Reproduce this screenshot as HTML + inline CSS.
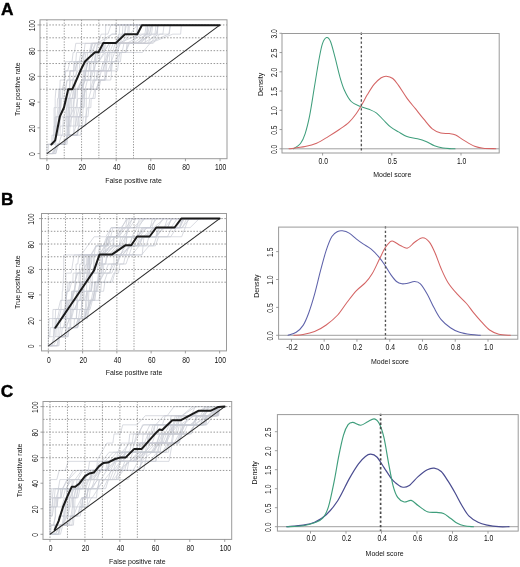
<!DOCTYPE html>
<html><head><meta charset="utf-8"><style>
html,body{margin:0;padding:0;background:#fff;width:520px;height:567px;overflow:hidden}
svg{display:block;filter:blur(0.35px)}
</style></head><body>
<svg width="520" height="567" viewBox="0 0 520 567" font-family='"Liberation Sans", sans-serif'>
<rect width="520" height="567" fill="#fff"/>
<text x="7.2" y="14.69" text-anchor="middle" font-size="17.3" fill="#000" font-weight="bold" stroke="#000" stroke-width="0.4">A</text>
<text x="7.2" y="205.19" text-anchor="middle" font-size="17.3" fill="#000" font-weight="bold" stroke="#000" stroke-width="0.4">B</text>
<text x="6.9" y="396.59" text-anchor="middle" font-size="17.3" fill="#000" font-weight="bold" stroke="#000" stroke-width="0.4">C</text>
<polyline points="64.67,135.18 68.39,135.18 69.21,116.81 69.21,107.62 69.21,89.25 72.09,89.25 73.75,70.88 73.83,61.69 83.33,61.69 84.22,52.5 92.59,52.5 95.75,43.32 114.54,43.32 122.88,34.13 124.53,34.13 126.39,24.94 178.87,24.94" fill="none" stroke="#c8ccd4" stroke-width="0.7" stroke-linejoin="round" stroke-linecap="round"/>
<polyline points="57.44,144.37 64.8,144.37 67.95,135.18 67.95,126 67.95,116.81 67.95,107.62 68.37,107.62 68.88,98.44 72.89,98.44 74.52,80.06 77.54,80.06 79.48,70.88 79.75,61.69 84.56,61.69 86.05,52.5 89.32,52.5 91.35,43.32 116.83,43.32 119.21,34.13 119.85,24.94 175.8,24.94" fill="none" stroke="#c8ccd4" stroke-width="0.7" stroke-linejoin="round" stroke-linecap="round"/>
<polyline points="53.99,144.37 55.11,144.37 55.33,126 59.54,126 60.17,116.81 60.17,98.44 60.17,89.25 69.27,89.25 70.29,70.88 75.44,70.88 76.55,61.69 79.1,61.69 80.98,52.5 83.94,52.5 85.13,43.32 97.47,43.32 111.72,34.13 115.83,34.13 116.45,24.94 164.64,24.94" fill="none" stroke="#c8ccd4" stroke-width="0.7" stroke-linejoin="round" stroke-linecap="round"/>
<polyline points="69.39,126 69.39,116.81 69.92,107.62 70.64,98.44 72.12,98.44 73.48,89.25 78.02,89.25 81.83,80.06 85.09,80.06 85.69,70.88 102.28,70.88 113.24,43.32 142.83,43.32 158.89,34.13 162.86,34.13 164.11,24.94 175.11,24.94" fill="none" stroke="#c8ccd4" stroke-width="0.7" stroke-linejoin="round" stroke-linecap="round"/>
<polyline points="46.93,153.56 47.87,153.56 48.72,144.37 51.8,144.37 51.97,135.18 53.77,135.18 54.08,126 54.79,126 55.04,116.81 58.92,116.81 63.13,107.62 63.8,107.62 64.22,98.44 67.1,98.44 69.05,89.25 75.02,89.25 76.25,80.06 76.25,70.88 76.94,70.88 77.51,61.69 98.39,61.69 109.15,43.32 137.57,43.32 145.79,34.13 147.41,34.13 147.69,24.94 206.93,24.94" fill="none" stroke="#c8ccd4" stroke-width="0.7" stroke-linejoin="round" stroke-linecap="round"/>
<polyline points="75.8,126 77.31,126 78.26,116.81 82.72,116.81 83.17,107.62 83.69,107.62 84.28,98.44 88.76,98.44 91.32,89.25 96.12,89.25 99.92,80.06 104.9,80.06 106.41,70.88 110.53,70.88 111.47,61.69 116.99,61.69 117.89,52.5 122.07,52.5 123.94,43.32 140.31,43.32 151.09,34.13 156.11,34.13 158.14,24.94 201.25,24.94" fill="none" stroke="#c8ccd4" stroke-width="0.7" stroke-linejoin="round" stroke-linecap="round"/>
<polyline points="46.93,144.37 53.72,144.37 55.51,135.18 60.04,135.18 60.4,126 63.68,126 66.09,116.81 70.16,116.81 73.82,107.62 76.05,107.62 77.87,98.44 82.55,98.44 85.82,89.25 93.31,89.25 93.96,80.06 96.18,80.06 97.29,70.88 100.83,70.88 103.29,61.69 114.46,61.69 120.68,52.5 125.48,52.5 129.49,43.32 149.7,43.32 172.75,34.13 180.63,34.13 181.34,24.94 220.07,24.94" fill="none" stroke="#c8ccd4" stroke-width="0.7" stroke-linejoin="round" stroke-linecap="round"/>
<polyline points="46.93,153.56 54.91,153.56 55.89,144.37 55.89,135.18 55.89,126 56.06,116.81 56.96,116.81 57.91,107.62 60.97,107.62 61.44,98.44 62.15,98.44 62.35,89.25 65.73,89.25 67.18,80.06 69.08,80.06 69.83,70.88 73.81,70.88 74.88,61.69 80.11,61.69 84.82,52.5 89.71,52.5 93.06,43.32 101.74,43.32 112.16,34.13 115.59,34.13 116.53,24.94 127.82,24.94" fill="none" stroke="#c8ccd4" stroke-width="0.7" stroke-linejoin="round" stroke-linecap="round"/>
<polyline points="67.95,135.18 69.39,135.18 69.97,126 75.04,126 79.08,107.62 80.78,107.62 81.45,89.25 81.63,80.06 84.11,80.06 85.19,70.88 89.04,70.88 89.59,61.69 99.08,61.69 100.09,52.5 102.19,52.5 103.84,43.32 120.5,43.32 122.32,34.13 127.66,34.13 128.23,24.94 187.02,24.94" fill="none" stroke="#c8ccd4" stroke-width="0.7" stroke-linejoin="round" stroke-linecap="round"/>
<polyline points="67.95,135.18 77.65,135.18 78.83,126 79.53,126 80.24,116.81 80.78,107.62 82.53,107.62 82.82,98.44 82.82,89.25 96.52,89.25 101.32,70.88 103.54,70.88 105.32,52.5 142.51,52.5 157.59,34.13 157.59,24.94 165.04,24.94" fill="none" stroke="#c8ccd4" stroke-width="0.7" stroke-linejoin="round" stroke-linecap="round"/>
<polyline points="57.71,126 59.52,126 59.83,116.81 59.83,107.62 59.83,98.44 59.83,89.25 60.1,80.06 64.38,80.06 64.61,70.88 65.38,61.69 72.02,61.69 73.13,52.5 74.4,52.5 75.79,43.32 97.75,43.32 101.23,34.13 107.87,34.13 110.98,24.94 134.58,24.94" fill="none" stroke="#c8ccd4" stroke-width="0.7" stroke-linejoin="round" stroke-linecap="round"/>
<polyline points="46.93,153.56 53.05,153.56 57.44,144.37 63.66,144.37 67.85,135.18 67.85,126 70.84,126 71.56,116.81 75.96,116.81 77.11,107.62 77.11,98.44 77.58,89.25 81.17,89.25 85.08,80.06 90.57,80.06 93.43,70.88 93.43,61.69 98.8,61.69 105.09,52.5 112.59,52.5 115.12,43.32 139.19,43.32 149.49,34.13 151.56,34.13 152.74,24.94 191.29,24.94" fill="none" stroke="#c8ccd4" stroke-width="0.7" stroke-linejoin="round" stroke-linecap="round"/>
<polyline points="55.85,135.18 57.69,135.18 59.88,126 59.88,116.81 59.88,107.62 59.88,98.44 63.63,98.44 67,80.06 72.81,80.06 77.9,70.88 85.61,70.88 87.98,61.69 91.21,61.69 94.29,52.5 99.75,52.5 104.14,43.32 122.7,43.32 137.3,24.94 171.72,24.94" fill="none" stroke="#c8ccd4" stroke-width="0.7" stroke-linejoin="round" stroke-linecap="round"/>
<polyline points="46.93,153.56 46.93,144.37 52.64,144.37 53.55,135.18 55.59,135.18 56.76,126 56.76,116.81 58.15,116.81 59.1,107.62 59.1,89.25 62.08,89.25 64.85,80.06 64.85,70.88 67.76,70.88 69.82,61.69 75.83,61.69 76.47,52.5 101.66,52.5 105.63,34.13 105.63,24.94 164.55,24.94" fill="none" stroke="#c8ccd4" stroke-width="0.7" stroke-linejoin="round" stroke-linecap="round"/>
<polyline points="57.44,144.37 63.48,144.37 67.95,135.18 77.27,135.18 78.63,126 78.63,116.81 79.84,116.81 80.87,107.62 81.36,107.62 81.81,98.44 81.81,89.25 85.16,89.25 87.45,80.06 90.19,80.06 90.88,70.88 93.55,70.88 96.34,61.69 104.83,61.69 110.44,43.32 133.51,43.32 137.24,34.13 137.24,24.94 138.93,24.94" fill="none" stroke="#c8ccd4" stroke-width="0.7" stroke-linejoin="round" stroke-linecap="round"/>
<polyline points="57.44,144.37 63.72,144.37 67.95,135.18 73.05,135.18 75.87,126 75.87,116.81 79.99,116.81 80.82,98.44 82.47,98.44 84.08,80.06 84.08,70.88 86.37,70.88 86.92,61.69 87.72,52.5 91.56,52.5 95.28,43.32 121.22,43.32 127.67,34.13 129.07,34.13 129.16,24.94 144.75,24.94" fill="none" stroke="#c8ccd4" stroke-width="0.7" stroke-linejoin="round" stroke-linecap="round"/>
<polyline points="58.06,135.18 58.37,116.81 64.43,116.81 66.7,107.62 66.7,98.44 69.58,98.44 72.08,89.25 76.9,89.25 81.74,80.06 82.71,80.06 83.34,70.88 86.01,70.88 88.12,61.69 96.53,61.69 98.07,52.5 104.24,52.5 105.57,43.32 126.94,43.32 142.92,34.13 144.92,34.13 146.25,24.94 172.51,24.94" fill="none" stroke="#c8ccd4" stroke-width="0.7" stroke-linejoin="round" stroke-linecap="round"/>
<polyline points="46.93,153.56 55.95,153.56 57.44,144.37 65.41,144.37 67.95,135.18 73.65,135.18 73.98,116.81 79.71,116.81 81.05,107.62 84.18,107.62 84.59,89.25 90.42,89.25 90.86,80.06 104.63,80.06 105.48,61.69 109.3,61.69 110.01,52.5 116.24,52.5 120.7,43.32 147.27,43.32 155.22,34.13 156.96,34.13 158.13,24.94 214.31,24.94" fill="none" stroke="#c8ccd4" stroke-width="0.7" stroke-linejoin="round" stroke-linecap="round"/>
<polyline points="67.95,135.18 68.43,126 68.43,116.81 70.69,116.81 71.7,107.62 71.7,98.44 74.55,98.44 74.92,89.25 80.29,89.25 84.86,80.06 85.03,70.88 90.67,70.88 91.15,61.69 94.98,61.69 95.57,52.5 96.85,52.5 97.28,43.32 114.6,43.32 121.99,34.13 124.54,34.13 125.38,24.94 174.45,24.94" fill="none" stroke="#c8ccd4" stroke-width="0.7" stroke-linejoin="round" stroke-linecap="round"/>
<polyline points="46.93,153.56 51.74,153.56 57.44,144.37 64.15,144.37 67.95,135.18 76.5,135.18 78.83,126 85.64,126 86.27,116.81 86.27,107.62 86.27,98.44 86.27,89.25 90.61,89.25 93.09,80.06 94.2,80.06 94.76,70.88 110.79,70.88 112.03,52.5 115.04,52.5 117.57,43.32 153.27,43.32 159.65,34.13 168.75,34.13 170.54,24.94 181.01,24.94" fill="none" stroke="#c8ccd4" stroke-width="0.7" stroke-linejoin="round" stroke-linecap="round"/>
<polyline points="46.93,153.56 53.67,153.56 57.44,144.37 65.56,144.37 67.95,126 67.95,116.81 68.49,107.62 73.11,107.62 73.93,98.44 74.78,98.44 75.24,89.25 78.96,89.25 81.59,80.06 90.49,80.06 91.39,70.88 106.22,70.88 107.74,52.5 113.8,52.5 119.32,43.32 135.9,43.32 152.87,34.13 154.99,34.13 156,24.94 180.96,24.94" fill="none" stroke="#c8ccd4" stroke-width="0.7" stroke-linejoin="round" stroke-linecap="round"/>
<polyline points="60.16,135.18 65.88,135.18 66.44,126 66.44,116.81 66.44,107.62 67.34,107.62 68.1,98.44 74.63,98.44 75.84,89.25 81.49,89.25 85.39,80.06 88.13,80.06 88.34,70.88 94.48,70.88 96.19,52.5 103.67,52.5 104.29,43.32 131.71,43.32 136.73,34.13 137.36,24.94 151.15,24.94" fill="none" stroke="#c8ccd4" stroke-width="0.7" stroke-linejoin="round" stroke-linecap="round"/>
<polyline points="57.44,144.37 67.1,144.37 67.95,135.18 77.18,135.18 78.83,126 84.91,126 85.91,116.81 88,116.81 89.7,98.44 92.91,98.44 94.65,89.25 97.53,89.25 99.89,80.06 110.79,80.06 112.42,61.69 120.51,61.69 121.33,52.5 126.02,52.5 126.97,43.32 145.01,43.32 147.58,24.94 203.2,24.94" fill="none" stroke="#c8ccd4" stroke-width="0.7" stroke-linejoin="round" stroke-linecap="round"/>
<polyline points="46.93,153.56 55.74,153.56 61.54,135.18 62.27,135.18 62.96,126 63.27,116.81 73.02,116.81 74.42,98.44 75.55,98.44 76.01,89.25 82.51,89.25 82.93,80.06 85.35,80.06 85.96,70.88 89.14,70.88 89.72,61.69 93.97,61.69 95.91,52.5 103.67,52.5 109.39,43.32 137.97,43.32 146.67,34.13 149.31,34.13 151.29,24.94 191.61,24.94" fill="none" stroke="#c8ccd4" stroke-width="0.7" stroke-linejoin="round" stroke-linecap="round"/>
<polyline points="55.13,126 55.18,116.81 55.18,107.62 55.18,98.44 55.95,89.25 63.51,89.25 65.72,70.88 74.8,70.88 77.28,61.69 81.29,61.69 83.65,52.5 90.92,52.5 91.87,43.32 115.58,43.32 118.61,34.13 122.43,34.13 122.92,24.94 124.91,24.94" fill="none" stroke="#c8ccd4" stroke-width="0.7" stroke-linejoin="round" stroke-linecap="round"/>
<polyline points="54.06,135.18 54.06,126 54.06,116.81 54.06,107.62 57.16,107.62 57.56,98.44 58.32,98.44 59.19,89.25 69.57,89.25 70.44,80.06 76.61,80.06 79.75,70.88 84.78,70.88 85.23,61.69 87.89,61.69 91.02,52.5 95.66,52.5 97.79,43.32 118.22,43.32 140.06,34.13 147.8,34.13 149.56,24.94 170.44,24.94" fill="none" stroke="#c8ccd4" stroke-width="0.7" stroke-linejoin="round" stroke-linecap="round"/>
<polyline points="65.15,126 69.38,126 71.44,116.81 73.76,116.81 75.33,107.62 81.07,107.62 81.82,98.44 83.85,98.44 85.15,89.25 91.37,89.25 95.42,80.06 97.14,80.06 98.49,70.88 108.13,70.88 114.57,52.5 117.58,52.5 119.5,43.32 133.63,43.32 145.82,34.13 149.76,34.13 151.93,24.94 179.01,24.94" fill="none" stroke="#c8ccd4" stroke-width="0.7" stroke-linejoin="round" stroke-linecap="round"/>
<polyline points="46.93,153.56 52.38,153.56 57.44,144.37 62.18,144.37 67.95,135.18 80.63,135.18 83.48,116.81 85.65,116.81 87.43,107.62 90.83,107.62 91.17,98.44 95.05,98.44 95.57,89.25 98.71,89.25 100.82,80.06 105.83,80.06 107,70.88 117.52,70.88 119.63,52.5 125.47,52.5 128.47,43.32 147.36,43.32 168.63,34.13 169.37,34.13 170.19,24.94 188.66,24.94" fill="none" stroke="#c8ccd4" stroke-width="0.7" stroke-linejoin="round" stroke-linecap="round"/>
<line x1="40" y1="89.25" x2="227" y2="89.25" stroke="#858585" stroke-width="0.85" stroke-dasharray="1.5 1.6"/>
<line x1="40" y1="76.39" x2="227" y2="76.39" stroke="#858585" stroke-width="0.85" stroke-dasharray="1.5 1.6"/>
<line x1="40" y1="63.53" x2="227" y2="63.53" stroke="#858585" stroke-width="0.85" stroke-dasharray="1.5 1.6"/>
<line x1="40" y1="50.67" x2="227" y2="50.67" stroke="#858585" stroke-width="0.85" stroke-dasharray="1.5 1.6"/>
<line x1="40" y1="37.81" x2="227" y2="37.81" stroke="#858585" stroke-width="0.85" stroke-dasharray="1.5 1.6"/>
<line x1="40" y1="24.94" x2="227" y2="24.94" stroke="#858585" stroke-width="0.85" stroke-dasharray="1.5 1.6"/>
<line x1="46.93" y1="19.8" x2="46.93" y2="158.7" stroke="#858585" stroke-width="0.85" stroke-dasharray="1.3 1.4"/>
<line x1="64.24" y1="19.8" x2="64.24" y2="158.7" stroke="#858585" stroke-width="0.85" stroke-dasharray="1.3 1.4"/>
<line x1="81.56" y1="19.8" x2="81.56" y2="158.7" stroke="#858585" stroke-width="0.85" stroke-dasharray="1.3 1.4"/>
<line x1="98.87" y1="19.8" x2="98.87" y2="158.7" stroke="#858585" stroke-width="0.85" stroke-dasharray="1.3 1.4"/>
<line x1="116.19" y1="19.8" x2="116.19" y2="158.7" stroke="#858585" stroke-width="0.85" stroke-dasharray="1.3 1.4"/>
<line x1="133.5" y1="19.8" x2="133.5" y2="158.7" stroke="#858585" stroke-width="0.85" stroke-dasharray="1.3 1.4"/>
<line x1="46.93" y1="153.56" x2="220.07" y2="24.94" stroke="#2a2a2a" stroke-width="1.05"/>
<polyline points="51.3,144.5 55.2,140.4 59.8,116.7 64,107.5 68.2,89.2 72.4,89.2 80.4,70.8 85,61.5 88.1,58.5 95,52.3 98.5,52.3 103.2,43.1 115.8,43.1 125,34.3 137.3,34.3 141.9,25.2 219.6,25.2" fill="none" stroke="#1a1a1a" stroke-width="2.0" stroke-linejoin="round" stroke-linecap="round"/>
<rect x="40" y="19.8" width="187" height="138.9" fill="none" stroke="#9a9a9a" stroke-width="1"/>
<line x1="46.93" y1="158.7" x2="46.93" y2="161.2" stroke="#888" stroke-width="0.8"/>
<text transform="translate(47.53 170.27) scale(0.82 1)" text-anchor="middle" font-size="8.3" fill="#111">0</text>
<line x1="40" y1="153.56" x2="37.5" y2="153.56" stroke="#888" stroke-width="0.8"/>
<text transform="translate(34.67 154.16) rotate(-90) scale(0.82 1)" text-anchor="middle" font-size="8.3" fill="#111">0</text>
<line x1="81.56" y1="158.7" x2="81.56" y2="161.2" stroke="#888" stroke-width="0.8"/>
<text transform="translate(82.16 170.27) scale(0.82 1)" text-anchor="middle" font-size="8.3" fill="#111">20</text>
<line x1="40" y1="127.83" x2="37.5" y2="127.83" stroke="#888" stroke-width="0.8"/>
<text transform="translate(34.67 128.43) rotate(-90) scale(0.82 1)" text-anchor="middle" font-size="8.3" fill="#111">20</text>
<line x1="116.19" y1="158.7" x2="116.19" y2="161.2" stroke="#888" stroke-width="0.8"/>
<text transform="translate(116.79 170.27) scale(0.82 1)" text-anchor="middle" font-size="8.3" fill="#111">40</text>
<line x1="40" y1="102.11" x2="37.5" y2="102.11" stroke="#888" stroke-width="0.8"/>
<text transform="translate(34.67 102.71) rotate(-90) scale(0.82 1)" text-anchor="middle" font-size="8.3" fill="#111">40</text>
<line x1="150.81" y1="158.7" x2="150.81" y2="161.2" stroke="#888" stroke-width="0.8"/>
<text transform="translate(151.41 170.27) scale(0.82 1)" text-anchor="middle" font-size="8.3" fill="#111">60</text>
<line x1="40" y1="76.39" x2="37.5" y2="76.39" stroke="#888" stroke-width="0.8"/>
<text transform="translate(34.67 76.99) rotate(-90) scale(0.82 1)" text-anchor="middle" font-size="8.3" fill="#111">60</text>
<line x1="185.44" y1="158.7" x2="185.44" y2="161.2" stroke="#888" stroke-width="0.8"/>
<text transform="translate(186.04 170.27) scale(0.82 1)" text-anchor="middle" font-size="8.3" fill="#111">80</text>
<line x1="40" y1="50.67" x2="37.5" y2="50.67" stroke="#888" stroke-width="0.8"/>
<text transform="translate(34.67 51.27) rotate(-90) scale(0.82 1)" text-anchor="middle" font-size="8.3" fill="#111">80</text>
<line x1="220.07" y1="158.7" x2="220.07" y2="161.2" stroke="#888" stroke-width="0.8"/>
<text transform="translate(220.67 170.27) scale(0.82 1)" text-anchor="middle" font-size="8.3" fill="#111">100</text>
<line x1="40" y1="24.94" x2="37.5" y2="24.94" stroke="#888" stroke-width="0.8"/>
<text transform="translate(34.67 25.54) rotate(-90) scale(0.82 1)" text-anchor="middle" font-size="8.3" fill="#111">100</text>
<text transform="translate(133.5 183.28) scale(0.97 1)" text-anchor="middle" font-size="7.2" fill="#111">False positive rate</text>
<text transform="translate(20.18 89.25) rotate(-90) scale(0.97 1)" text-anchor="middle" font-size="7.2" fill="#111">True positive rate</text>
<polyline points="48.35,345.81 48.62,327.64 49.15,318.55 57.54,318.55 59.45,309.46 61.02,309.46 61.15,300.37 70.71,300.37 76.63,282.2 86.19,282.2 91.41,273.11 97.3,273.11 98.07,264.03 101.57,264.03 103.02,254.94 119.49,254.94 131.16,245.85 138.76,245.85 142.57,236.76 155.95,236.76 157.43,227.68 173.21,227.68 184.83,218.59 206.75,218.59" fill="none" stroke="#c8ccd4" stroke-width="0.7" stroke-linejoin="round" stroke-linecap="round"/>
<polyline points="56.05,336.72 58.01,336.72 58.16,327.64 63.87,327.64 66.94,318.55 70.92,318.55 74.37,300.37 75.7,300.37 76.51,291.29 78.55,291.29 79.76,282.2 80.21,282.2 80.72,273.11 85.57,273.11 86.44,264.03 87.27,264.03 87.96,254.94 98.93,254.94 111,245.85 123.57,245.85 125.55,236.76 137.59,236.76 143.25,227.68 157.23,227.68 163.24,218.59 203.63,218.59" fill="none" stroke="#c8ccd4" stroke-width="0.7" stroke-linejoin="round" stroke-linecap="round"/>
<polyline points="79.92,318.55 85.52,318.55 87.4,309.46 90.08,309.46 92.38,300.37 94.66,300.37 95.27,282.2 99.6,282.2 101.31,273.11 104.73,273.11 108.37,264.03 126.02,264.03 132.21,245.85 139.25,245.85 143.02,236.76 170.77,236.76 181.97,218.59 195.88,218.59" fill="none" stroke="#c8ccd4" stroke-width="0.7" stroke-linejoin="round" stroke-linecap="round"/>
<polyline points="48.35,345.81 53.19,345.81 58.75,336.72 64.89,336.72 69.15,327.64 77.77,327.64 79.92,318.55 85.02,318.55 86.04,309.46 88.12,309.46 88.47,300.37 88.94,291.29 91.33,291.29 92.54,282.2 98.88,282.2 103.48,273.11 110.08,273.11 111.78,264.03 117.07,264.03 118.79,254.94 142.15,254.94 143.98,236.76 156.07,236.76 159.61,227.68 179.91,227.68 182.88,218.59 203.16,218.59" fill="none" stroke="#c8ccd4" stroke-width="0.7" stroke-linejoin="round" stroke-linecap="round"/>
<polyline points="65.9,327.64 66.26,318.55 67.91,318.55 68.03,309.46 68.03,300.37 70.95,300.37 71.93,291.29 74.83,291.29 75.41,282.2 78.88,282.2 79.79,264.03 81.74,264.03 82.05,254.94 102.37,254.94 110.98,227.68 125.66,227.68 127.21,218.59 158.97,218.59" fill="none" stroke="#c8ccd4" stroke-width="0.7" stroke-linejoin="round" stroke-linecap="round"/>
<polyline points="69.15,327.64 74,327.64 74.43,318.55 87.15,318.55 89.18,300.37 91.21,300.37 93.01,291.29 96.44,291.29 98.32,282.2 104.16,282.2 107.29,273.11 111.84,273.11 115.37,264.03 116.32,264.03 116.42,254.94 131.91,254.94 139.13,245.85 146.24,245.85 148.99,236.76 181.69,236.76 188.59,218.59 219.65,218.59" fill="none" stroke="#c8ccd4" stroke-width="0.7" stroke-linejoin="round" stroke-linecap="round"/>
<polyline points="55.19,336.72 55.99,336.72 56.21,327.64 56.21,318.55 63.54,318.55 67.05,291.29 68.5,291.29 69.64,282.2 75.17,282.2 76.84,273.11 79.92,273.11 83.54,264.03 83.54,254.94 91.12,254.94 96.85,245.85 106,245.85 106.84,236.76 118.98,236.76 125.54,227.68 136,227.68 145,218.59 176.28,218.59" fill="none" stroke="#c8ccd4" stroke-width="0.7" stroke-linejoin="round" stroke-linecap="round"/>
<polyline points="72.08,318.55 83.98,318.55 84.74,309.46 88.29,309.46 91.02,300.37 92.76,300.37 94.41,291.29 95.1,282.2 97.98,282.2 99.87,273.11 99.87,264.03 100.37,254.94 112.74,254.94 124.38,245.85 136.68,245.85 140.27,236.76 146.79,236.76 154.63,227.68 178.91,227.68 183.05,218.59 195.21,218.59" fill="none" stroke="#c8ccd4" stroke-width="0.7" stroke-linejoin="round" stroke-linecap="round"/>
<polyline points="58.75,336.72 61.42,336.72 62.28,327.64 65.63,327.64 69.64,318.55 76.44,318.55 76.93,309.46 81.28,309.46 81.62,300.37 82.32,291.29 86.59,291.29 86.88,273.11 87.68,264.03 89.05,264.03 90.02,254.94 105.16,254.94 114.67,245.85 119.03,245.85 123.41,236.76 143.24,236.76 164.18,218.59 198.35,218.59" fill="none" stroke="#c8ccd4" stroke-width="0.7" stroke-linejoin="round" stroke-linecap="round"/>
<polyline points="54.16,318.55 58.69,318.55 61.12,309.46 66.43,309.46 70.46,300.37 77.02,300.37 82.47,282.2 87.92,282.2 89.52,273.11 89.52,264.03 89.52,254.94 108.51,254.94 120.89,245.85 126.12,245.85 126.47,236.76 139.75,236.76 146.57,227.68 167.75,227.68 171.33,218.59 219.65,218.59" fill="none" stroke="#c8ccd4" stroke-width="0.7" stroke-linejoin="round" stroke-linecap="round"/>
<polyline points="48.35,345.81 51.44,345.81 53.68,336.72 53.68,327.64 57.63,327.64 58.65,318.55 62.92,318.55 66.88,300.37 72.43,300.37 73.51,291.29 83.23,291.29 84.23,282.2 88.01,282.2 90.29,273.11 93.03,273.11 93.91,264.03 93.91,254.94 105.38,254.94 114.33,245.85 120.24,245.85 125.76,236.76 136.81,236.76 147.16,227.68 170.87,227.68 177.29,218.59 219.65,218.59" fill="none" stroke="#c8ccd4" stroke-width="0.7" stroke-linejoin="round" stroke-linecap="round"/>
<polyline points="69.15,327.64 74.77,327.64 78.36,318.55 84.05,318.55 90.27,300.37 92.89,300.37 94.89,291.29 97.54,291.29 98.66,282.2 98.66,273.11 101.53,273.11 102.3,264.03 102.3,254.94 108.91,254.94 116.6,245.85 125.53,245.85 127.1,236.76 135.99,236.76 144.81,227.68 164.46,227.68 167.47,218.59 175.04,218.59" fill="none" stroke="#c8ccd4" stroke-width="0.7" stroke-linejoin="round" stroke-linecap="round"/>
<polyline points="60.49,327.64 63.45,327.64 65.54,318.55 70.64,318.55 71,300.37 72.38,300.37 73.1,291.29 79.62,291.29 80.95,282.2 86.08,282.2 88.31,273.11 88.31,264.03 88.31,254.94 104.83,254.94 107.54,236.76 116.07,236.76 119.52,227.68 125.96,227.68 132.57,218.59 159.83,218.59" fill="none" stroke="#c8ccd4" stroke-width="0.7" stroke-linejoin="round" stroke-linecap="round"/>
<polyline points="69.15,327.64 77.65,327.64 79.6,318.55 81.3,318.55 81.72,309.46 81.72,300.37 83.82,300.37 84.26,282.2 84.26,273.11 84.26,254.94 94.26,254.94 95.57,245.85 103.2,245.85 106.73,236.76 123.07,236.76 136.16,218.59 152.74,218.59" fill="none" stroke="#c8ccd4" stroke-width="0.7" stroke-linejoin="round" stroke-linecap="round"/>
<polyline points="48.35,345.81 58.97,345.81 60.95,318.55 63.33,318.55 65.38,309.46 65.38,300.37 65.85,282.2 65.91,273.11 71.15,273.11 74.09,254.94 90.77,254.94 95.97,245.85 103.18,245.85 108.51,236.76 115.75,236.76 123.77,227.68 133.24,227.68 143.15,218.59 155.09,218.59" fill="none" stroke="#c8ccd4" stroke-width="0.7" stroke-linejoin="round" stroke-linecap="round"/>
<polyline points="58.75,336.72 68.28,336.72 69.15,327.64 75.83,327.64 78.13,318.55 81.35,318.55 82.03,309.46 85.39,309.46 85.66,300.37 86.26,300.37 86.85,291.29 91.34,291.29 92.28,282.2 99.37,282.2 104.11,273.11 108.84,273.11 113.92,264.03 113.92,254.94 122.17,254.94 131.46,245.85 136.68,245.85 142.51,236.76 156.86,236.76 162.61,227.68 182.29,227.68 186.7,218.59 193.69,218.59" fill="none" stroke="#c8ccd4" stroke-width="0.7" stroke-linejoin="round" stroke-linecap="round"/>
<polyline points="69.15,327.64 77.29,327.64 79.88,309.46 81.42,309.46 82.76,300.37 83.46,300.37 84.01,291.29 89.1,291.29 90.31,282.2 90.48,273.11 98.7,273.11 101.96,264.03 101.96,254.94 113.31,254.94 123.28,245.85 130.76,245.85 137.97,236.76 155.26,236.76 164.66,227.68 181.99,227.68 189.72,218.59 219.65,218.59" fill="none" stroke="#c8ccd4" stroke-width="0.7" stroke-linejoin="round" stroke-linecap="round"/>
<polyline points="64.96,318.55 65.76,309.46 68.54,309.46 69.26,300.37 76.7,300.37 77.36,291.29 80.12,291.29 80.56,282.2 84.45,282.2 87.85,273.11 89.47,273.11 90.91,264.03 90.91,254.94 98.34,254.94 106.05,245.85 108.23,245.85 109.45,236.76 125.93,236.76 129.45,218.59 157.68,218.59" fill="none" stroke="#c8ccd4" stroke-width="0.7" stroke-linejoin="round" stroke-linecap="round"/>
<polyline points="49.69,336.72 50.35,327.64 52.71,327.64 52.98,309.46 58.28,309.46 60.57,300.37 62.1,300.37 62.25,291.29 62.72,291.29 63.14,282.2 63.72,273.11 63.72,264.03 63.72,254.94 81.13,254.94 94.14,236.76 105.84,236.76 111.24,227.68 128.61,227.68 132.34,218.59 198.5,218.59" fill="none" stroke="#c8ccd4" stroke-width="0.7" stroke-linejoin="round" stroke-linecap="round"/>
<polyline points="48.35,345.81 57.87,345.81 58.75,336.72 67.34,336.72 69.15,327.64 76.88,327.64 79.92,318.55 87.45,318.55 90.68,300.37 92.58,300.37 94.36,291.29 100.68,291.29 101.36,282.2 112.23,282.2 119.61,254.94 125.99,254.94 128.98,245.85 133.86,245.85 139.29,236.76 149.1,236.76 157.13,227.68 167.42,227.68 171.97,218.59 197.01,218.59" fill="none" stroke="#c8ccd4" stroke-width="0.7" stroke-linejoin="round" stroke-linecap="round"/>
<polyline points="48.35,345.81 52,345.81 54.9,336.72 54.9,327.64 55.65,309.46 65.1,309.46 68.18,282.2 74.76,282.2 77.68,273.11 82.1,273.11 86.32,264.03 86.32,254.94 99.42,254.94 100.71,245.85 108.46,245.85 112.92,227.68 121.15,227.68 127.7,218.59 135,218.59" fill="none" stroke="#c8ccd4" stroke-width="0.7" stroke-linejoin="round" stroke-linecap="round"/>
<polyline points="48.35,345.81 56.78,345.81 58.75,336.72 64.09,336.72 69.15,318.55 69.9,318.55 70.1,309.46 74.04,309.46 78.78,300.37 80.27,300.37 81.56,291.29 82.36,291.29 82.72,282.2 88,282.2 89.06,273.11 92.51,273.11 94.07,264.03 94.07,254.94 99.5,254.94 104.33,245.85 107.41,245.85 109.17,236.76 117.23,236.76 126.67,218.59 149.43,218.59" fill="none" stroke="#c8ccd4" stroke-width="0.7" stroke-linejoin="round" stroke-linecap="round"/>
<polyline points="48.35,336.72 53.41,336.72 56.74,318.55 62.1,318.55 66.34,309.46 66.34,300.37 66.54,291.29 69.17,291.29 71.55,282.2 72.86,282.2 73.12,273.11 87.33,273.11 89.07,254.94 104.44,254.94 109.63,245.85 113.67,245.85 114.05,236.76 126.07,236.76 128.99,227.68 138.42,227.68 143.9,218.59 214.11,218.59" fill="none" stroke="#c8ccd4" stroke-width="0.7" stroke-linejoin="round" stroke-linecap="round"/>
<polyline points="75.98,318.55 80.81,318.55 82.23,309.46 87.06,309.46 91.98,300.37 99.01,300.37 100.22,291.29 103.59,291.29 104.84,282.2 110.28,282.2 113.74,273.11 118.54,273.11 119.82,264.03 123.57,264.03 125.57,254.94 141.48,254.94 149.12,245.85 155.33,245.85 158.6,236.76 167.46,236.76 171.81,227.68 190.12,227.68 199.32,218.59 219.65,218.59" fill="none" stroke="#c8ccd4" stroke-width="0.7" stroke-linejoin="round" stroke-linecap="round"/>
<polyline points="62.45,318.55 66.24,318.55 67.13,309.46 70.76,309.46 71.52,300.37 71.52,291.29 74.47,291.29 75.27,282.2 76.06,273.11 76.06,264.03 77.77,264.03 78.77,254.94 97.63,254.94 99.83,245.85 106.84,245.85 115.33,236.76 131.67,236.76 137.43,227.68 151.9,227.68 155.14,218.59 219.65,218.59" fill="none" stroke="#c8ccd4" stroke-width="0.7" stroke-linejoin="round" stroke-linecap="round"/>
<polyline points="58.75,336.72 63.3,336.72 67.54,327.64 70.74,327.64 71.09,309.46 75.17,309.46 77.35,300.37 84.6,300.37 87.1,291.29 90.41,291.29 92.11,282.2 92.29,273.11 94.33,273.11 96.53,264.03 105.04,264.03 107.69,254.94 120.03,254.94 125.92,245.85 130.4,245.85 132.12,236.76 138.09,236.76 141.75,227.68 150.32,227.68 152.43,218.59 183.88,218.59" fill="none" stroke="#c8ccd4" stroke-width="0.7" stroke-linejoin="round" stroke-linecap="round"/>
<polyline points="72.71,318.55 76.14,318.55 76.98,309.46 77.83,300.37 79.34,300.37 81.13,291.29 81.13,282.2 82.85,282.2 83.09,273.11 89.12,273.11 90.57,264.03 91.4,264.03 92.19,254.94 101.72,254.94 110.87,245.85 112.63,245.85 113.91,236.76 118.61,236.76 123.23,227.68 136.32,227.68 139.7,218.59 162.49,218.59" fill="none" stroke="#c8ccd4" stroke-width="0.7" stroke-linejoin="round" stroke-linecap="round"/>
<polyline points="52.98,327.64 57.48,327.64 58.57,318.55 61.5,318.55 64.05,309.46 66.57,309.46 67.96,300.37 71.22,300.37 74.96,291.29 78.31,291.29 80.28,282.2 87.68,282.2 89.29,273.11 89.93,254.94 101.09,254.94 114.36,245.85 119.21,245.85 120.59,236.76 136.99,236.76 138.97,227.68 149.5,227.68 157.04,218.59 181.55,218.59" fill="none" stroke="#c8ccd4" stroke-width="0.7" stroke-linejoin="round" stroke-linecap="round"/>
<polyline points="64.85,318.55 71.61,318.55 73.78,309.46 76.86,309.46 77.35,300.37 94.8,300.37 98.43,273.11 101.74,273.11 102.33,264.03 117.39,264.03 124.27,245.85 128.85,245.85 132.37,236.76 145.62,236.76 153.19,227.68 164.06,227.68 172.7,218.59 219.65,218.59" fill="none" stroke="#c8ccd4" stroke-width="0.7" stroke-linejoin="round" stroke-linecap="round"/>
<polyline points="58.75,336.72 65.7,336.72 69.15,327.64 69.9,327.64 70.05,318.55 85.26,318.55 87.79,291.29 93.83,291.29 94.74,282.2 98.8,282.2 99.72,273.11 103.26,273.11 103.79,264.03 106.01,264.03 106.37,254.94 122.66,254.94 129.12,245.85 153.46,245.85 159.53,227.68 179.96,227.68 184.34,218.59 219.65,218.59" fill="none" stroke="#c8ccd4" stroke-width="0.7" stroke-linejoin="round" stroke-linecap="round"/>
<line x1="41.5" y1="282.2" x2="226.5" y2="282.2" stroke="#858585" stroke-width="0.85" stroke-dasharray="1.5 1.6"/>
<line x1="41.5" y1="269.48" x2="226.5" y2="269.48" stroke="#858585" stroke-width="0.85" stroke-dasharray="1.5 1.6"/>
<line x1="41.5" y1="256.76" x2="226.5" y2="256.76" stroke="#858585" stroke-width="0.85" stroke-dasharray="1.5 1.6"/>
<line x1="41.5" y1="244.03" x2="226.5" y2="244.03" stroke="#858585" stroke-width="0.85" stroke-dasharray="1.5 1.6"/>
<line x1="41.5" y1="231.31" x2="226.5" y2="231.31" stroke="#858585" stroke-width="0.85" stroke-dasharray="1.5 1.6"/>
<line x1="41.5" y1="218.59" x2="226.5" y2="218.59" stroke="#858585" stroke-width="0.85" stroke-dasharray="1.5 1.6"/>
<line x1="48.35" y1="213.5" x2="48.35" y2="350.9" stroke="#858585" stroke-width="0.85" stroke-dasharray="1.3 1.4"/>
<line x1="65.48" y1="213.5" x2="65.48" y2="350.9" stroke="#858585" stroke-width="0.85" stroke-dasharray="1.3 1.4"/>
<line x1="82.61" y1="213.5" x2="82.61" y2="350.9" stroke="#858585" stroke-width="0.85" stroke-dasharray="1.3 1.4"/>
<line x1="99.74" y1="213.5" x2="99.74" y2="350.9" stroke="#858585" stroke-width="0.85" stroke-dasharray="1.3 1.4"/>
<line x1="116.87" y1="213.5" x2="116.87" y2="350.9" stroke="#858585" stroke-width="0.85" stroke-dasharray="1.3 1.4"/>
<line x1="134" y1="213.5" x2="134" y2="350.9" stroke="#858585" stroke-width="0.85" stroke-dasharray="1.3 1.4"/>
<line x1="48.35" y1="345.81" x2="219.65" y2="218.59" stroke="#2a2a2a" stroke-width="1.05"/>
<polyline points="55.3,327.8 90,276.5 93.8,270.8 99.6,254.4 112.1,254.4 125.6,245.2 131.3,245.2 137.1,236.5 149.6,236.5 156.3,227.5 174.6,227.5 181.3,218.5 219.6,218.5" fill="none" stroke="#1a1a1a" stroke-width="2.0" stroke-linejoin="round" stroke-linecap="round"/>
<rect x="41.5" y="213.5" width="185" height="137.4" fill="none" stroke="#9a9a9a" stroke-width="1"/>
<line x1="48.35" y1="350.9" x2="48.35" y2="353.4" stroke="#888" stroke-width="0.8"/>
<text transform="translate(48.95 362.57) scale(0.82 1)" text-anchor="middle" font-size="8.3" fill="#111">0</text>
<line x1="41.5" y1="345.81" x2="39" y2="345.81" stroke="#888" stroke-width="0.8"/>
<text transform="translate(34.17 346.41) rotate(-90) scale(0.82 1)" text-anchor="middle" font-size="8.3" fill="#111">0</text>
<line x1="82.61" y1="350.9" x2="82.61" y2="353.4" stroke="#888" stroke-width="0.8"/>
<text transform="translate(83.21 362.57) scale(0.82 1)" text-anchor="middle" font-size="8.3" fill="#111">20</text>
<line x1="41.5" y1="320.37" x2="39" y2="320.37" stroke="#888" stroke-width="0.8"/>
<text transform="translate(34.17 320.97) rotate(-90) scale(0.82 1)" text-anchor="middle" font-size="8.3" fill="#111">20</text>
<line x1="116.87" y1="350.9" x2="116.87" y2="353.4" stroke="#888" stroke-width="0.8"/>
<text transform="translate(117.47 362.57) scale(0.82 1)" text-anchor="middle" font-size="8.3" fill="#111">40</text>
<line x1="41.5" y1="294.92" x2="39" y2="294.92" stroke="#888" stroke-width="0.8"/>
<text transform="translate(34.17 295.52) rotate(-90) scale(0.82 1)" text-anchor="middle" font-size="8.3" fill="#111">40</text>
<line x1="151.13" y1="350.9" x2="151.13" y2="353.4" stroke="#888" stroke-width="0.8"/>
<text transform="translate(151.73 362.57) scale(0.82 1)" text-anchor="middle" font-size="8.3" fill="#111">60</text>
<line x1="41.5" y1="269.48" x2="39" y2="269.48" stroke="#888" stroke-width="0.8"/>
<text transform="translate(34.17 270.08) rotate(-90) scale(0.82 1)" text-anchor="middle" font-size="8.3" fill="#111">60</text>
<line x1="185.39" y1="350.9" x2="185.39" y2="353.4" stroke="#888" stroke-width="0.8"/>
<text transform="translate(185.99 362.57) scale(0.82 1)" text-anchor="middle" font-size="8.3" fill="#111">80</text>
<line x1="41.5" y1="244.03" x2="39" y2="244.03" stroke="#888" stroke-width="0.8"/>
<text transform="translate(34.17 244.63) rotate(-90) scale(0.82 1)" text-anchor="middle" font-size="8.3" fill="#111">80</text>
<line x1="219.65" y1="350.9" x2="219.65" y2="353.4" stroke="#888" stroke-width="0.8"/>
<text transform="translate(220.25 362.57) scale(0.82 1)" text-anchor="middle" font-size="8.3" fill="#111">100</text>
<line x1="41.5" y1="218.59" x2="39" y2="218.59" stroke="#888" stroke-width="0.8"/>
<text transform="translate(34.17 219.19) rotate(-90) scale(0.82 1)" text-anchor="middle" font-size="8.3" fill="#111">100</text>
<text transform="translate(134 375.28) scale(0.97 1)" text-anchor="middle" font-size="7.2" fill="#111">False positive rate</text>
<text transform="translate(20.38 282.2) rotate(-90) scale(0.97 1)" text-anchor="middle" font-size="7.2" fill="#111">True positive rate</text>
<polyline points="49.99,534.29 54.95,534.29 60.6,525.17 66.28,525.17 71.21,516.05 80.18,516.05 82.19,506.93 87.05,506.93 87.71,497.81 89.25,497.81 90.32,488.69 103.13,488.69 107.71,479.57 116.2,479.57 123.48,470.45 139.13,470.45 141.99,461.33 150.01,461.33 157.07,452.21 166.01,452.21 169.55,443.09 178.41,443.09 182.03,433.97 188.16,433.97 194.51,424.85 203.67,424.85 206.99,415.73 214.36,415.73 219.47,406.61 224.71,406.61" fill="none" stroke="#c8ccd4" stroke-width="0.7" stroke-linejoin="round" stroke-linecap="round"/>
<polyline points="71.21,516.05 77.25,516.05 80.16,506.93 83.66,506.93 85.57,488.69 92.2,488.69 97.36,479.57 116.12,479.57 120.23,461.33 140.5,461.33 150.37,443.09 176.96,443.09 188.62,415.73 203,415.73 213.33,406.61 224.71,406.61" fill="none" stroke="#c8ccd4" stroke-width="0.7" stroke-linejoin="round" stroke-linecap="round"/>
<polyline points="61.13,516.05 64.05,516.05 65.58,506.93 67.78,506.93 68.13,497.81 70.54,497.81 72.37,488.69 77.54,488.69 80.27,479.57 89.93,479.57 93.53,470.45 107.76,470.45 110.02,461.33 138.36,461.33 156,443.09 162.3,443.09 163.26,433.97 173.22,433.97 174.02,424.85 206.78,424.85 219.47,406.61 224.71,406.61" fill="none" stroke="#c8ccd4" stroke-width="0.7" stroke-linejoin="round" stroke-linecap="round"/>
<polyline points="58.07,506.93 61.71,506.93 64.25,497.81 68.14,497.81 68.36,488.69 74.67,488.69 80.08,479.57 88.4,479.57 94.35,470.45 105.63,470.45 114.37,461.33 135.33,461.33 147.19,443.09 165.89,443.09 175.7,424.85 191.05,424.85 199.19,415.73 211.09,415.73 219.47,406.61 224.71,406.61" fill="none" stroke="#c8ccd4" stroke-width="0.7" stroke-linejoin="round" stroke-linecap="round"/>
<polyline points="49.99,506.93 49.99,497.81 49.99,479.57 56.77,479.57 59.25,470.45 65.16,470.45 68.3,461.33 96.52,461.33 106.82,443.09 112.89,443.09 114.04,433.97 120.18,433.97 122.75,424.85 136.94,424.85 145.25,415.73 167.19,415.73 174.02,406.61 198.36,406.61" fill="none" stroke="#c8ccd4" stroke-width="0.7" stroke-linejoin="round" stroke-linecap="round"/>
<polyline points="49.99,534.29 49.99,525.17 49.99,516.05 52.26,516.05 53.72,506.93 56.93,506.93 58.19,497.81 63.03,497.81 65.44,488.69 77.62,488.69 81.14,479.57 89.95,479.57 90.79,470.45 105.64,470.45 107.41,461.33 123.79,461.33 124.82,452.21 134.35,452.21 139.71,443.09 148.59,443.09 149.97,433.97 175.06,433.97 180.87,415.73 202.2,415.73 210.59,406.61 217.95,406.61" fill="none" stroke="#c8ccd4" stroke-width="0.7" stroke-linejoin="round" stroke-linecap="round"/>
<polyline points="49.99,516.05 49.99,506.93 51.96,506.93 52.93,497.81 60.89,497.81 62.45,488.69 67.04,488.69 69.22,479.57 89.56,479.57 104.46,461.33 118.23,461.33 125.31,452.21 140.97,452.21 142.31,443.09 147.46,443.09 147.78,433.97 156.1,433.97 158.05,424.85 180.65,424.85 182.04,415.73 211.99,415.73 217.03,406.61 224.71,406.61" fill="none" stroke="#c8ccd4" stroke-width="0.7" stroke-linejoin="round" stroke-linecap="round"/>
<polyline points="80.19,506.93 82.05,506.93 82.86,497.81 86.92,497.81 87.66,488.69 98.18,488.69 98.96,479.57 117.99,479.57 124.86,461.33 135.18,461.33 144.46,452.21 158.35,452.21 159.5,443.09 162.99,443.09 166.38,433.97 180.24,433.97 181.21,424.85 199.94,424.85 219.47,406.61 222.31,406.61" fill="none" stroke="#c8ccd4" stroke-width="0.7" stroke-linejoin="round" stroke-linecap="round"/>
<polyline points="49.99,534.29 55.52,534.29 60.6,525.17 63.46,525.17 66.97,516.05 66.97,506.93 66.97,497.81 66.97,488.69 71.54,488.69 72.36,479.57 84.45,479.57 88.66,470.45 107.67,470.45 109.73,461.33 129.89,461.33 132.73,452.21 153.78,452.21 159.54,433.97 170.46,433.97 172.15,424.85 193.21,424.85 196.86,415.73 208.65,415.73 219.47,406.61 224.36,406.61" fill="none" stroke="#c8ccd4" stroke-width="0.7" stroke-linejoin="round" stroke-linecap="round"/>
<polyline points="80.42,506.93 82.28,506.93 82.56,497.81 85.76,497.81 88.86,488.69 96.5,488.69 104.7,479.57 112.1,479.57 116.27,470.45 127.09,470.45 128.9,461.33 140.99,461.33 151.98,452.21 162.33,452.21 167.6,443.09 176.57,443.09 179.9,433.97 188.92,433.97 194.51,424.85 206.2,424.85 206.99,415.73 213.42,415.73 219.47,406.61 224.71,406.61" fill="none" stroke="#c8ccd4" stroke-width="0.7" stroke-linejoin="round" stroke-linecap="round"/>
<polyline points="49.99,534.29 49.99,525.17 58.06,525.17 58.74,516.05 65,516.05 66.2,497.81 70.29,497.81 74.33,488.69 78.79,488.69 79.66,479.57 91.38,479.57 92.24,470.45 101.71,470.45 104.59,461.33 114.48,461.33 123.55,452.21 131.47,452.21 134.62,443.09 142.48,443.09 143.11,433.97 152.04,433.97 154.85,424.85 169.85,424.85 171.11,415.73 190.98,415.73 195.34,406.61 216.32,406.61" fill="none" stroke="#c8ccd4" stroke-width="0.7" stroke-linejoin="round" stroke-linecap="round"/>
<polyline points="49.99,525.17 53.57,525.17 55.64,516.05 55.64,506.93 57.35,506.93 57.64,497.81 58.25,488.69 65.81,488.69 71.98,479.57 77.78,479.57 82.81,470.45 96.48,470.45 97.33,461.33 109.16,461.33 116.71,452.21 124.42,452.21 128.49,443.09 134.36,443.09 138.96,433.97 150.46,433.97 152.95,424.85 173.05,424.85 175.3,415.73 202.13,415.73 208.11,406.61 210.39,406.61" fill="none" stroke="#c8ccd4" stroke-width="0.7" stroke-linejoin="round" stroke-linecap="round"/>
<polyline points="52.5,506.93 54.81,506.93 55.58,497.81 60.37,497.81 60.65,488.69 76.76,488.69 90.97,470.45 96.49,470.45 102.73,461.33 115.76,461.33 122.83,452.21 131.91,452.21 140.54,443.09 160.59,443.09 164.38,424.85 176.32,424.85 178.6,415.73 192.74,415.73 205.78,406.61 224.71,406.61" fill="none" stroke="#c8ccd4" stroke-width="0.7" stroke-linejoin="round" stroke-linecap="round"/>
<polyline points="54.51,525.17 71.98,525.17 73.27,506.93 73.4,497.81 74.54,497.81 75.42,488.69 85.7,488.69 88.79,479.57 95.61,479.57 101.18,470.45 121.29,470.45 137.99,452.21 145.15,452.21 153.2,443.09 157.06,443.09 160.14,433.97 166.52,433.97 174.27,424.85 192.67,424.85 196.74,415.73 211.64,415.73 219.47,406.61 224.71,406.61" fill="none" stroke="#c8ccd4" stroke-width="0.7" stroke-linejoin="round" stroke-linecap="round"/>
<polyline points="49.99,534.29 59.01,534.29 60.6,525.17 66.26,525.17 68.38,516.05 73.6,516.05 76.93,506.93 81.14,506.93 83.05,497.81 86.84,497.81 88.2,488.69 97.07,488.69 99.96,479.57 113.24,479.57 121.52,470.45 136.97,470.45 143.27,461.33 155.86,461.33 157.07,452.21 168.5,452.21 169.55,443.09 177.44,443.09 182.03,433.97 189.43,433.97 194.51,424.85 205.28,424.85 206.99,415.73 216.75,415.73 219.47,406.61 224.71,406.61" fill="none" stroke="#c8ccd4" stroke-width="0.7" stroke-linejoin="round" stroke-linecap="round"/>
<polyline points="72.08,506.93 76.96,506.93 81.74,497.81 92.25,497.81 103.83,479.57 110.02,479.57 113.45,470.45 143.78,470.45 147.12,452.21 156.55,452.21 164.64,433.97 170.98,433.97 177.83,424.85 194.97,424.85 196.54,415.73 208.75,415.73 219.47,406.61 224.71,406.61" fill="none" stroke="#c8ccd4" stroke-width="0.7" stroke-linejoin="round" stroke-linecap="round"/>
<polyline points="60.6,525.17 69.46,525.17 72.42,506.93 72.42,497.81 72.42,488.69 82.06,488.69 84.01,479.57 91.24,479.57 98.47,470.45 113.42,470.45 116.11,461.33 133.17,461.33 141.99,452.21 154.35,452.21 162.26,433.97 169.34,433.97 174.08,424.85 189.87,424.85 202.94,415.73 215.92,415.73 219.47,406.61 224.71,406.61" fill="none" stroke="#c8ccd4" stroke-width="0.7" stroke-linejoin="round" stroke-linecap="round"/>
<polyline points="49.99,534.29 50.73,534.29 51.22,525.17 53.64,525.17 55.19,516.05 55.19,506.93 56.32,506.93 56.58,497.81 61.1,497.81 62.72,488.69 71.41,488.69 74.29,479.57 85.3,479.57 88.81,470.45 101.12,470.45 103.43,461.33 118.62,461.33 126.66,452.21 135.62,452.21 143.27,443.09 165.36,443.09 171.05,424.85 194.98,424.85 219.47,406.61 224.71,406.61" fill="none" stroke="#c8ccd4" stroke-width="0.7" stroke-linejoin="round" stroke-linecap="round"/>
<polyline points="49.99,506.93 52.36,506.93 52.55,497.81 55.99,497.81 59.22,488.69 66.4,488.69 70.18,479.57 84.78,479.57 86.24,470.45 95.14,470.45 99.82,461.33 116.42,461.33 117.63,452.21 129.51,452.21 131.57,443.09 134.21,443.09 136.54,433.97 145.58,433.97 149.87,424.85 180.14,424.85 207.61,406.61 224.71,406.61" fill="none" stroke="#c8ccd4" stroke-width="0.7" stroke-linejoin="round" stroke-linecap="round"/>
<polyline points="49.99,525.17 49.99,506.93 49.99,497.81 50.92,497.81 51.15,488.69 62.56,488.69 73.6,470.45 88.2,470.45 89.61,461.33 101.91,461.33 109.24,452.21 117.86,452.21 121.28,443.09 128.84,443.09 129.77,433.97 137.51,433.97 143.57,424.85 162.4,424.85 165.26,415.73 181.83,415.73 192.67,406.61 193,406.61" fill="none" stroke="#c8ccd4" stroke-width="0.7" stroke-linejoin="round" stroke-linecap="round"/>
<polyline points="60.6,525.17 65.65,525.17 71.21,516.05 77.85,516.05 81.6,497.81 84.08,497.81 86.1,488.69 91.74,488.69 94.47,479.57 104.61,479.57 111.94,470.45 124.66,470.45 127.23,461.33 169.02,461.33 173.81,433.97 180.85,433.97 184.94,424.85 202.35,424.85 206.99,415.73 217.86,415.73 219.47,406.61 220.83,406.61" fill="none" stroke="#c8ccd4" stroke-width="0.7" stroke-linejoin="round" stroke-linecap="round"/>
<polyline points="72.9,506.93 72.9,497.81 76.88,497.81 77.41,488.69 90.38,488.69 98.06,479.57 108.4,479.57 110.71,470.45 139.45,470.45 142.72,452.21 151.23,452.21 160.23,443.09 164.6,443.09 169.3,433.97 177.28,433.97 179.42,424.85 201.24,424.85 202.69,415.73 217.4,415.73 219.47,406.61 224.71,406.61" fill="none" stroke="#c8ccd4" stroke-width="0.7" stroke-linejoin="round" stroke-linecap="round"/>
<polyline points="49.99,534.29 54.14,534.29 54.69,525.17 62.33,525.17 66.35,516.05 68.01,516.05 69.79,506.93 70.59,506.93 71.44,497.81 76.07,497.81 78.4,488.69 88.13,488.69 90.94,479.57 100.68,479.57 106.78,470.45 116.13,470.45 121.04,461.33 132.45,461.33 145.85,452.21 160.07,452.21 161.4,443.09 174.17,443.09 183.96,424.85 194.16,424.85 205.7,415.73 216.89,415.73 219.47,406.61 224.71,406.61" fill="none" stroke="#c8ccd4" stroke-width="0.7" stroke-linejoin="round" stroke-linecap="round"/>
<polyline points="49.99,534.29 58.14,534.29 60.6,525.17 73.41,525.17 74.76,506.93 75.06,497.81 78.02,497.81 79.92,488.69 84.58,488.69 87.71,479.57 93.3,479.57 98.23,470.45 113.61,470.45 127,452.21 138.68,452.21 140.18,443.09 147.35,443.09 149.77,433.97 153.74,433.97 155.05,424.85 177.74,424.85 179.19,415.73 200.5,415.73 205.45,406.61 213.01,406.61" fill="none" stroke="#c8ccd4" stroke-width="0.7" stroke-linejoin="round" stroke-linecap="round"/>
<polyline points="60.6,525.17 67.79,525.17 71.21,516.05 76.22,516.05 82.19,506.93 87.03,506.93 91.36,497.81 96.54,497.81 97.28,488.69 105.58,488.69 108.53,479.57 128.25,479.57 138.06,461.33 155.82,461.33 157.07,452.21 163.08,452.21 169.55,443.09 179.23,443.09 182.03,433.97 191.29,433.97 194.51,424.85 203.53,424.85 206.99,415.73 218.29,415.73 219.47,406.61 224.71,406.61" fill="none" stroke="#c8ccd4" stroke-width="0.7" stroke-linejoin="round" stroke-linecap="round"/>
<polyline points="50.96,516.05 51.95,516.05 52.08,506.93 53.92,506.93 54.36,497.81 55.2,488.69 62.5,488.69 66.94,479.57 75.1,479.57 81.72,470.45 110.42,470.45 120.2,452.21 135.75,452.21 137.86,443.09 144.26,443.09 148.04,433.97 171.13,433.97 177.08,415.73 204.81,415.73 208.59,406.61 211.6,406.61" fill="none" stroke="#c8ccd4" stroke-width="0.7" stroke-linejoin="round" stroke-linecap="round"/>
<polyline points="49.99,516.05 49.99,506.93 50.83,497.81 52.4,497.81 53.33,488.69 58.32,488.69 59.91,479.57 68.58,479.57 76.99,470.45 96.34,470.45 113.31,452.21 121.91,452.21 129.53,443.09 132.26,443.09 133.51,433.97 139.01,433.97 142.54,424.85 155.75,424.85 163.89,415.73 182.05,415.73 195.74,406.61 204.19,406.61" fill="none" stroke="#c8ccd4" stroke-width="0.7" stroke-linejoin="round" stroke-linecap="round"/>
<polyline points="49.99,534.29 58.05,534.29 60.22,525.17 61.91,525.17 63.81,516.05 63.81,506.93 65.03,506.93 65.32,497.81 66.56,497.81 66.69,488.69 75.74,488.69 77.11,479.57 89.48,479.57 93.12,470.45 106.67,470.45 109.09,461.33 121.82,461.33 131.93,452.21 145.02,452.21 147.51,443.09 152.15,443.09 155.4,433.97 164.72,433.97 169.44,424.85 182.94,424.85 193.68,415.73 214.7,415.73 219.47,406.61 224.71,406.61" fill="none" stroke="#c8ccd4" stroke-width="0.7" stroke-linejoin="round" stroke-linecap="round"/>
<polyline points="66.84,506.93 68.71,506.93 69.7,497.81 73.4,497.81 76.2,488.69 82.9,488.69 85.99,479.57 93.17,479.57 100.36,470.45 118.54,470.45 140.15,452.21 152.58,452.21 158.31,443.09 171.12,443.09 172.87,433.97 183.4,433.97 187.42,424.85 198.78,424.85 206.99,415.73 218.79,415.73 219.47,406.61 224.71,406.61" fill="none" stroke="#c8ccd4" stroke-width="0.7" stroke-linejoin="round" stroke-linecap="round"/>
<polyline points="49.99,534.29 60.48,534.29 64.95,516.05 68.28,516.05 68.46,506.93 69.45,506.93 69.64,497.81 69.64,488.69 79.52,488.69 84.51,479.57 97.47,479.57 99.72,470.45 107.63,470.45 115.54,461.33 132.78,461.33 138.84,452.21 151.2,452.21 156.58,443.09 167.07,443.09 168.54,433.97 181.59,433.97 182.73,424.85 202.44,424.85 206.99,415.73 216.87,415.73 219.47,406.61 224.71,406.61" fill="none" stroke="#c8ccd4" stroke-width="0.7" stroke-linejoin="round" stroke-linecap="round"/>
<line x1="43" y1="470.45" x2="231.7" y2="470.45" stroke="#858585" stroke-width="0.85" stroke-dasharray="1.5 1.6"/>
<line x1="43" y1="457.68" x2="231.7" y2="457.68" stroke="#858585" stroke-width="0.85" stroke-dasharray="1.5 1.6"/>
<line x1="43" y1="444.91" x2="231.7" y2="444.91" stroke="#858585" stroke-width="0.85" stroke-dasharray="1.5 1.6"/>
<line x1="43" y1="432.14" x2="231.7" y2="432.14" stroke="#858585" stroke-width="0.85" stroke-dasharray="1.5 1.6"/>
<line x1="43" y1="419.38" x2="231.7" y2="419.38" stroke="#858585" stroke-width="0.85" stroke-dasharray="1.5 1.6"/>
<line x1="43" y1="406.61" x2="231.7" y2="406.61" stroke="#858585" stroke-width="0.85" stroke-dasharray="1.5 1.6"/>
<line x1="49.99" y1="401.5" x2="49.99" y2="539.4" stroke="#858585" stroke-width="0.85" stroke-dasharray="1.3 1.4"/>
<line x1="67.46" y1="401.5" x2="67.46" y2="539.4" stroke="#858585" stroke-width="0.85" stroke-dasharray="1.3 1.4"/>
<line x1="84.93" y1="401.5" x2="84.93" y2="539.4" stroke="#858585" stroke-width="0.85" stroke-dasharray="1.3 1.4"/>
<line x1="102.41" y1="401.5" x2="102.41" y2="539.4" stroke="#858585" stroke-width="0.85" stroke-dasharray="1.3 1.4"/>
<line x1="119.88" y1="401.5" x2="119.88" y2="539.4" stroke="#858585" stroke-width="0.85" stroke-dasharray="1.3 1.4"/>
<line x1="137.35" y1="401.5" x2="137.35" y2="539.4" stroke="#858585" stroke-width="0.85" stroke-dasharray="1.3 1.4"/>
<line x1="49.99" y1="534.29" x2="224.71" y2="406.61" stroke="#2a2a2a" stroke-width="1.05"/>
<polyline points="54.7,529.9 58.6,521.1 63,507 67.4,496.4 71.8,486.7 75.3,486.7 79.7,483.2 85,476.1 89.4,473.5 93.8,472.6 99.1,466.1 103.5,462.9 107.9,462.6 115,459 120.2,457.6 125.5,457.6 134,449.1 141.5,449.1 155,433.9 159.3,429.6 162.2,430 172.3,420.2 181,420.2 198.3,410.8 210.5,410.8 218.5,406.9 224.6,406.5" fill="none" stroke="#1a1a1a" stroke-width="2.0" stroke-linejoin="round" stroke-linecap="round"/>
<rect x="43" y="401.5" width="188.7" height="137.9" fill="none" stroke="#9a9a9a" stroke-width="1"/>
<line x1="49.99" y1="539.4" x2="49.99" y2="541.9" stroke="#888" stroke-width="0.8"/>
<text transform="translate(50.59 551.27) scale(0.82 1)" text-anchor="middle" font-size="8.3" fill="#111">0</text>
<line x1="43" y1="534.29" x2="40.5" y2="534.29" stroke="#888" stroke-width="0.8"/>
<text transform="translate(37.97 534.89) rotate(-90) scale(0.82 1)" text-anchor="middle" font-size="8.3" fill="#111">0</text>
<line x1="84.93" y1="539.4" x2="84.93" y2="541.9" stroke="#888" stroke-width="0.8"/>
<text transform="translate(85.53 551.27) scale(0.82 1)" text-anchor="middle" font-size="8.3" fill="#111">20</text>
<line x1="43" y1="508.76" x2="40.5" y2="508.76" stroke="#888" stroke-width="0.8"/>
<text transform="translate(37.97 509.36) rotate(-90) scale(0.82 1)" text-anchor="middle" font-size="8.3" fill="#111">20</text>
<line x1="119.88" y1="539.4" x2="119.88" y2="541.9" stroke="#888" stroke-width="0.8"/>
<text transform="translate(120.48 551.27) scale(0.82 1)" text-anchor="middle" font-size="8.3" fill="#111">40</text>
<line x1="43" y1="483.22" x2="40.5" y2="483.22" stroke="#888" stroke-width="0.8"/>
<text transform="translate(37.97 483.82) rotate(-90) scale(0.82 1)" text-anchor="middle" font-size="8.3" fill="#111">40</text>
<line x1="154.82" y1="539.4" x2="154.82" y2="541.9" stroke="#888" stroke-width="0.8"/>
<text transform="translate(155.42 551.27) scale(0.82 1)" text-anchor="middle" font-size="8.3" fill="#111">60</text>
<line x1="43" y1="457.68" x2="40.5" y2="457.68" stroke="#888" stroke-width="0.8"/>
<text transform="translate(37.97 458.28) rotate(-90) scale(0.82 1)" text-anchor="middle" font-size="8.3" fill="#111">60</text>
<line x1="189.77" y1="539.4" x2="189.77" y2="541.9" stroke="#888" stroke-width="0.8"/>
<text transform="translate(190.37 551.27) scale(0.82 1)" text-anchor="middle" font-size="8.3" fill="#111">80</text>
<line x1="43" y1="432.14" x2="40.5" y2="432.14" stroke="#888" stroke-width="0.8"/>
<text transform="translate(37.97 432.74) rotate(-90) scale(0.82 1)" text-anchor="middle" font-size="8.3" fill="#111">80</text>
<line x1="224.71" y1="539.4" x2="224.71" y2="541.9" stroke="#888" stroke-width="0.8"/>
<text transform="translate(225.31 551.27) scale(0.82 1)" text-anchor="middle" font-size="8.3" fill="#111">100</text>
<line x1="43" y1="406.61" x2="40.5" y2="406.61" stroke="#888" stroke-width="0.8"/>
<text transform="translate(37.97 407.21) rotate(-90) scale(0.82 1)" text-anchor="middle" font-size="8.3" fill="#111">100</text>
<text transform="translate(137.35 563.78) scale(0.97 1)" text-anchor="middle" font-size="7.2" fill="#111">False positive rate</text>
<text transform="translate(21.88 470.45) rotate(-90) scale(0.97 1)" text-anchor="middle" font-size="7.2" fill="#111">True positive rate</text>
<line x1="282" y1="148.8" x2="499.2" y2="148.8" stroke="#a0a0a0" stroke-width="1"/>
<path d="M293.5,148.8 C294.67,147.92 298.57,146 300.5,143.5 C302.43,141 303.57,138.48 305.1,133.8 C306.63,129.12 308.17,123.08 309.7,115.4 C311.23,107.72 312.77,96.93 314.3,87.7 C315.83,78.47 317.55,67.32 318.9,60 C320.25,52.68 321.12,47.55 322.4,43.8 C323.68,40.05 325.25,37.88 326.6,37.5 C327.95,37.12 329.08,38.13 330.5,41.5 C331.92,44.87 333.57,51.92 335.1,57.7 C336.63,63.48 338.17,70.82 339.7,76.2 C341.23,81.58 342.38,85.78 344.3,90 C346.22,94.22 348.5,98.73 351.2,101.5 C353.9,104.27 357.42,105.25 360.5,106.6 C363.58,107.95 367.02,108.52 369.7,109.6 C372.38,110.68 374.3,111.37 376.6,113.1 C378.9,114.83 381.18,117.7 383.5,120 C385.82,122.3 388,124.92 390.5,126.9 C393,128.88 395.77,130.28 398.5,131.9 C401.23,133.52 403.73,135.47 406.9,136.6 C410.07,137.73 414.32,137.9 417.5,138.7 C420.68,139.5 423.18,140.23 426,141.4 C428.82,142.57 431.58,144.6 434.4,145.7 C437.22,146.8 440.08,147.5 442.9,148 C445.72,148.5 449.28,148.57 451.3,148.7 C453.32,148.83 454.38,148.78 455,148.8" fill="none" stroke="#3f9e7c" stroke-width="1.05" stroke-linejoin="round" stroke-linecap="round"/>
<path d="M289,148.8 C291.68,148.42 300.5,147.43 305.1,146.5 C309.7,145.57 312.75,144.85 316.6,143.2 C320.45,141.55 324.35,138.93 328.2,136.6 C332.05,134.27 336.25,131.58 339.7,129.2 C343.15,126.82 346.22,124.8 348.9,122.3 C351.58,119.8 353.68,117.08 355.8,114.2 C357.92,111.32 359.67,108.27 361.6,105 C363.53,101.73 365.28,98.07 367.4,94.6 C369.52,91.13 372,87 374.3,84.2 C376.6,81.4 379.2,79.13 381.2,77.8 C383.2,76.47 384.37,76.08 386.3,76.2 C388.23,76.32 390.77,76.97 392.8,78.5 C394.83,80.03 396.15,82.13 398.5,85.4 C400.85,88.67 404.08,94.22 406.9,98.1 C409.72,101.98 412.58,105.18 415.4,108.7 C418.22,112.22 420.98,115.85 423.8,119.2 C426.62,122.55 429.47,126.5 432.3,128.8 C435.13,131.1 437.98,132.2 440.8,133 C443.62,133.8 446.73,133.25 449.2,133.6 C451.67,133.95 453.13,133.97 455.6,135.1 C458.07,136.23 460.83,138.53 464,140.4 C467.17,142.27 471.42,145 474.6,146.3 C477.78,147.6 479.57,147.8 483.1,148.2 C486.63,148.6 493.68,148.62 495.8,148.7" fill="none" stroke="#d46464" stroke-width="1.05" stroke-linejoin="round" stroke-linecap="round"/>
<line x1="361.35" y1="32.6" x2="361.35" y2="153" stroke="#555" stroke-width="1.35" stroke-dasharray="2.3 2.15"/>
<rect x="282" y="33.5" width="217.2" height="119.5" fill="none" stroke="#9a9a9a" stroke-width="1"/>
<line x1="322.6" y1="153" x2="322.6" y2="155.5" stroke="#888" stroke-width="0.8"/>
<text transform="translate(323.2 164.17) scale(0.82 1)" text-anchor="middle" font-size="8.3" fill="#111">0.0</text>
<line x1="391.8" y1="153" x2="391.8" y2="155.5" stroke="#888" stroke-width="0.8"/>
<text transform="translate(392.4 164.17) scale(0.82 1)" text-anchor="middle" font-size="8.3" fill="#111">0.5</text>
<line x1="461" y1="153" x2="461" y2="155.5" stroke="#888" stroke-width="0.8"/>
<text transform="translate(461.6 164.17) scale(0.82 1)" text-anchor="middle" font-size="8.3" fill="#111">1.0</text>
<line x1="282" y1="148.8" x2="279.5" y2="148.8" stroke="#888" stroke-width="0.8"/>
<text transform="translate(277.37 149.4) rotate(-90) scale(0.82 1)" text-anchor="middle" font-size="8.3" fill="#111">0.0</text>
<line x1="282" y1="129.55" x2="279.5" y2="129.55" stroke="#888" stroke-width="0.8"/>
<text transform="translate(277.37 130.15) rotate(-90) scale(0.82 1)" text-anchor="middle" font-size="8.3" fill="#111">0.5</text>
<line x1="282" y1="110.3" x2="279.5" y2="110.3" stroke="#888" stroke-width="0.8"/>
<text transform="translate(277.37 110.9) rotate(-90) scale(0.82 1)" text-anchor="middle" font-size="8.3" fill="#111">1.0</text>
<line x1="282" y1="91.05" x2="279.5" y2="91.05" stroke="#888" stroke-width="0.8"/>
<text transform="translate(277.37 91.65) rotate(-90) scale(0.82 1)" text-anchor="middle" font-size="8.3" fill="#111">1.5</text>
<line x1="282" y1="71.8" x2="279.5" y2="71.8" stroke="#888" stroke-width="0.8"/>
<text transform="translate(277.37 72.4) rotate(-90) scale(0.82 1)" text-anchor="middle" font-size="8.3" fill="#111">2.0</text>
<line x1="282" y1="52.55" x2="279.5" y2="52.55" stroke="#888" stroke-width="0.8"/>
<text transform="translate(277.37 53.15) rotate(-90) scale(0.82 1)" text-anchor="middle" font-size="8.3" fill="#111">2.5</text>
<line x1="282" y1="33.3" x2="279.5" y2="33.3" stroke="#888" stroke-width="0.8"/>
<text transform="translate(277.37 33.9) rotate(-90) scale(0.82 1)" text-anchor="middle" font-size="8.3" fill="#111">3.0</text>
<text transform="translate(392.3 176.68) scale(0.97 1)" text-anchor="middle" font-size="7.2" fill="#111">Model score</text>
<text transform="translate(263.38 84.4) rotate(-90) scale(0.97 1)" text-anchor="middle" font-size="7.2" fill="#111">Density</text>
<line x1="278.6" y1="335.3" x2="517.8" y2="335.3" stroke="#a0a0a0" stroke-width="1"/>
<path d="M288.1,335.3 C289.45,334.8 293.7,333.95 296.2,332.3 C298.7,330.65 301,328.67 303.1,325.4 C305.2,322.13 306.88,317.9 308.8,312.7 C310.72,307.5 312.67,301.12 314.6,294.2 C316.53,287.28 318.47,278.5 320.4,271.2 C322.33,263.9 324.28,256.18 326.2,250.4 C328.12,244.62 329.98,239.65 331.9,236.5 C333.82,233.35 335.97,232.45 337.7,231.5 C339.43,230.55 340.38,230.53 342.3,230.8 C344.22,231.07 346.88,231.77 349.2,233.1 C351.52,234.43 353.88,237 356.2,238.8 C358.52,240.6 360.6,242.17 363.1,243.9 C365.6,245.63 368.52,246.97 371.2,249.2 C373.88,251.43 376.9,254.6 379.2,257.3 C381.5,260 383.07,262.52 385,265.4 C386.93,268.28 388.88,271.92 390.8,274.6 C392.72,277.28 394.65,279.97 396.5,281.5 C398.35,283.03 400.03,283.52 401.9,283.8 C403.77,284.08 405.58,283.58 407.7,283.2 C409.82,282.82 412.48,281.4 414.6,281.5 C416.72,281.6 418.28,281.68 420.4,283.8 C422.52,285.92 425,290.15 427.3,294.2 C429.6,298.25 431.88,303.87 434.2,308.1 C436.52,312.33 438.5,316.33 441.2,319.6 C443.9,322.87 447.33,325.58 450.4,327.7 C453.47,329.82 456.13,331.15 459.6,332.3 C463.07,333.45 467.73,334.1 471.2,334.6 C474.67,335.1 478.87,335.18 480.4,335.3" fill="none" stroke="#5e62aa" stroke-width="1.05" stroke-linejoin="round" stroke-linecap="round"/>
<path d="M293.8,335.3 C295.35,335.18 299.63,335.22 303.1,334.6 C306.57,333.98 310.75,333.2 314.6,331.6 C318.45,330 322.35,327.77 326.2,325 C330.05,322.23 334.25,318.75 337.7,315 C341.15,311.25 343.82,306.53 346.9,302.5 C349.98,298.47 353.12,294.1 356.2,290.8 C359.28,287.5 362.72,285.58 365.4,282.7 C368.08,279.82 370,277.35 372.3,273.5 C374.6,269.65 377.08,263.83 379.2,259.6 C381.32,255.37 383.27,250.98 385,248.1 C386.73,245.22 388.25,243.45 389.6,242.3 C390.95,241.15 391.23,240.62 393.1,241.2 C394.97,241.78 398.37,244.65 400.8,245.8 C403.23,246.95 405.4,248.68 407.7,248.1 C410,247.52 412.1,244.03 414.6,242.3 C417.1,240.57 420.2,237.7 422.7,237.7 C425.2,237.7 427.48,239.62 429.6,242.3 C431.72,244.98 433.47,249.38 435.4,253.8 C437.33,258.22 439.08,263.98 441.2,268.8 C443.32,273.62 445.42,278.47 448.1,282.7 C450.78,286.93 454.23,290.73 457.3,294.2 C460.37,297.67 463.8,300.42 466.5,303.5 C469.2,306.58 471,309.63 473.5,312.7 C476,315.77 478.82,319.02 481.5,321.9 C484.18,324.78 486.72,327.95 489.6,330 C492.48,332.05 495.33,333.32 498.8,334.2 C502.27,335.08 508.47,335.12 510.4,335.3" fill="none" stroke="#d46464" stroke-width="1.05" stroke-linejoin="round" stroke-linecap="round"/>
<line x1="385.46" y1="226.2" x2="385.46" y2="339.2" stroke="#555" stroke-width="1.35" stroke-dasharray="2.3 2.15"/>
<rect x="278.6" y="227.1" width="239.2" height="112.1" fill="none" stroke="#9a9a9a" stroke-width="1"/>
<line x1="291.44" y1="339.2" x2="291.44" y2="341.7" stroke="#888" stroke-width="0.8"/>
<text transform="translate(292.04 349.87) scale(0.82 1)" text-anchor="middle" font-size="8.3" fill="#111">-0.2</text>
<line x1="324.2" y1="339.2" x2="324.2" y2="341.7" stroke="#888" stroke-width="0.8"/>
<text transform="translate(324.8 349.87) scale(0.82 1)" text-anchor="middle" font-size="8.3" fill="#111">0.0</text>
<line x1="356.96" y1="339.2" x2="356.96" y2="341.7" stroke="#888" stroke-width="0.8"/>
<text transform="translate(357.56 349.87) scale(0.82 1)" text-anchor="middle" font-size="8.3" fill="#111">0.2</text>
<line x1="389.72" y1="339.2" x2="389.72" y2="341.7" stroke="#888" stroke-width="0.8"/>
<text transform="translate(390.32 349.87) scale(0.82 1)" text-anchor="middle" font-size="8.3" fill="#111">0.4</text>
<line x1="422.48" y1="339.2" x2="422.48" y2="341.7" stroke="#888" stroke-width="0.8"/>
<text transform="translate(423.08 349.87) scale(0.82 1)" text-anchor="middle" font-size="8.3" fill="#111">0.6</text>
<line x1="455.24" y1="339.2" x2="455.24" y2="341.7" stroke="#888" stroke-width="0.8"/>
<text transform="translate(455.84 349.87) scale(0.82 1)" text-anchor="middle" font-size="8.3" fill="#111">0.8</text>
<line x1="488" y1="339.2" x2="488" y2="341.7" stroke="#888" stroke-width="0.8"/>
<text transform="translate(488.6 349.87) scale(0.82 1)" text-anchor="middle" font-size="8.3" fill="#111">1.0</text>
<line x1="278.6" y1="335.3" x2="276.1" y2="335.3" stroke="#888" stroke-width="0.8"/>
<text transform="translate(272.87 335.9) rotate(-90) scale(0.82 1)" text-anchor="middle" font-size="8.3" fill="#111">0.0</text>
<line x1="278.6" y1="307.4" x2="276.1" y2="307.4" stroke="#888" stroke-width="0.8"/>
<text transform="translate(272.87 308) rotate(-90) scale(0.82 1)" text-anchor="middle" font-size="8.3" fill="#111">0.5</text>
<line x1="278.6" y1="279.5" x2="276.1" y2="279.5" stroke="#888" stroke-width="0.8"/>
<text transform="translate(272.87 280.1) rotate(-90) scale(0.82 1)" text-anchor="middle" font-size="8.3" fill="#111">1.0</text>
<line x1="278.6" y1="251.6" x2="276.1" y2="251.6" stroke="#888" stroke-width="0.8"/>
<text transform="translate(272.87 252.2) rotate(-90) scale(0.82 1)" text-anchor="middle" font-size="8.3" fill="#111">1.5</text>
<text transform="translate(390 363.58) scale(0.97 1)" text-anchor="middle" font-size="7.2" fill="#111">Model score</text>
<text transform="translate(259.28 286.2) rotate(-90) scale(0.97 1)" text-anchor="middle" font-size="7.2" fill="#111">Density</text>
<line x1="277.4" y1="526.7" x2="518.2" y2="526.7" stroke="#a0a0a0" stroke-width="1"/>
<path d="M286.9,526.7 C289.6,526.43 298.48,525.83 303.1,525.1 C307.72,524.37 310.75,524.03 314.6,522.3 C318.45,520.57 322.35,518.28 326.2,514.7 C330.05,511.12 333.87,506.77 337.7,500.8 C341.53,494.83 345.73,485.05 349.2,478.9 C352.67,472.75 355.8,467.63 358.5,463.9 C361.2,460.17 363.37,458.12 365.4,456.5 C367.43,454.88 368.78,454.12 370.7,454.2 C372.62,454.28 374.7,454.8 376.9,457 C379.1,459.2 381.58,463.93 383.9,467.4 C386.22,470.87 388.95,475.3 390.8,477.8 C392.65,480.3 393.15,480.87 395,482.4 C396.85,483.93 399.6,486.43 401.9,487 C404.2,487.57 406.1,487.53 408.8,485.8 C411.5,484.07 415.02,479.28 418.1,476.6 C421.18,473.92 424.62,471.12 427.3,469.7 C429.98,468.28 431.88,467.8 434.2,468.1 C436.52,468.4 438.88,469.32 441.2,471.5 C443.52,473.68 445.8,477.65 448.1,481.2 C450.4,484.75 452.7,488.75 455,492.8 C457.3,496.85 459.6,501.65 461.9,505.5 C464.2,509.35 466.1,513.1 468.8,515.9 C471.5,518.7 475.02,520.77 478.1,522.3 C481.18,523.83 483.85,524.37 487.3,525.1 C490.75,525.83 495.18,526.43 498.8,526.7 C502.42,526.97 507.3,526.7 509,526.7" fill="none" stroke="#4a4c90" stroke-width="1.2" stroke-linejoin="round" stroke-linecap="round"/>
<path d="M286.9,526.7 C289.6,526.55 298.48,526.45 303.1,525.8 C307.72,525.15 311.33,524.07 314.6,522.8 C317.87,521.53 320.38,520.9 322.7,518.2 C325.02,515.5 326.58,512.77 328.5,506.6 C330.42,500.43 332.48,489.67 334.2,481.2 C335.92,472.73 337.25,463.48 338.8,455.8 C340.35,448.12 341.95,440.28 343.5,435.1 C345.05,429.92 346.57,426.82 348.1,424.7 C349.63,422.58 350.58,422.32 352.7,422.4 C354.82,422.48 358.3,425.32 360.8,425.2 C363.3,425.08 365.47,422.75 367.7,421.7 C369.93,420.65 372.28,418.6 374.2,418.9 C376.12,419.2 377.58,420.42 379.2,423.5 C380.82,426.58 382.35,430.85 383.9,437.4 C385.45,443.95 386.97,454.73 388.5,462.8 C390.03,470.87 391.57,480.03 393.1,485.8 C394.63,491.57 395.85,494.7 397.7,497.4 C399.55,500.1 401.95,501.5 404.2,502 C406.45,502.5 408.88,499.82 411.2,500.4 C413.52,500.98 415.42,503.62 418.1,505.5 C420.78,507.38 424.23,510.55 427.3,511.7 C430.37,512.85 433.8,512.1 436.5,512.4 C439.2,512.7 441.18,512.53 443.5,513.5 C445.82,514.47 448.1,516.57 450.4,518.2 C452.7,519.83 455,522.03 457.3,523.3 C459.6,524.57 461.5,525.23 464.2,525.8 C466.9,526.37 471.95,526.55 473.5,526.7" fill="none" stroke="#3f9e7c" stroke-width="1.15" stroke-linejoin="round" stroke-linecap="round"/>
<line x1="380.61" y1="413.7" x2="380.61" y2="531.1" stroke="#4a4a4a" stroke-width="1.7" stroke-dasharray="2.3 2.15"/>
<rect x="277.4" y="414.6" width="240.8" height="116.5" fill="none" stroke="#9a9a9a" stroke-width="1"/>
<line x1="310.5" y1="531.1" x2="310.5" y2="533.6" stroke="#888" stroke-width="0.8"/>
<text transform="translate(311.1 541.27) scale(0.82 1)" text-anchor="middle" font-size="8.3" fill="#111">0.0</text>
<line x1="346" y1="531.1" x2="346" y2="533.6" stroke="#888" stroke-width="0.8"/>
<text transform="translate(346.6 541.27) scale(0.82 1)" text-anchor="middle" font-size="8.3" fill="#111">0.2</text>
<line x1="381.5" y1="531.1" x2="381.5" y2="533.6" stroke="#888" stroke-width="0.8"/>
<text transform="translate(382.1 541.27) scale(0.82 1)" text-anchor="middle" font-size="8.3" fill="#111">0.4</text>
<line x1="417" y1="531.1" x2="417" y2="533.6" stroke="#888" stroke-width="0.8"/>
<text transform="translate(417.6 541.27) scale(0.82 1)" text-anchor="middle" font-size="8.3" fill="#111">0.6</text>
<line x1="452.5" y1="531.1" x2="452.5" y2="533.6" stroke="#888" stroke-width="0.8"/>
<text transform="translate(453.1 541.27) scale(0.82 1)" text-anchor="middle" font-size="8.3" fill="#111">0.8</text>
<line x1="488" y1="531.1" x2="488" y2="533.6" stroke="#888" stroke-width="0.8"/>
<text transform="translate(488.6 541.27) scale(0.82 1)" text-anchor="middle" font-size="8.3" fill="#111">1.0</text>
<line x1="277.4" y1="526.7" x2="274.9" y2="526.7" stroke="#888" stroke-width="0.8"/>
<text transform="translate(270.67 527.3) rotate(-90) scale(0.82 1)" text-anchor="middle" font-size="8.3" fill="#111">0.0</text>
<line x1="277.4" y1="507.7" x2="274.9" y2="507.7" stroke="#888" stroke-width="0.8"/>
<text transform="translate(270.67 508.3) rotate(-90) scale(0.82 1)" text-anchor="middle" font-size="8.3" fill="#111">0.5</text>
<line x1="277.4" y1="488.7" x2="274.9" y2="488.7" stroke="#888" stroke-width="0.8"/>
<text transform="translate(270.67 489.3) rotate(-90) scale(0.82 1)" text-anchor="middle" font-size="8.3" fill="#111">1.0</text>
<line x1="277.4" y1="469.7" x2="274.9" y2="469.7" stroke="#888" stroke-width="0.8"/>
<text transform="translate(270.67 470.3) rotate(-90) scale(0.82 1)" text-anchor="middle" font-size="8.3" fill="#111">1.5</text>
<line x1="277.4" y1="450.7" x2="274.9" y2="450.7" stroke="#888" stroke-width="0.8"/>
<text transform="translate(270.67 451.3) rotate(-90) scale(0.82 1)" text-anchor="middle" font-size="8.3" fill="#111">2.0</text>
<line x1="277.4" y1="431.7" x2="274.9" y2="431.7" stroke="#888" stroke-width="0.8"/>
<text transform="translate(270.67 432.3) rotate(-90) scale(0.82 1)" text-anchor="middle" font-size="8.3" fill="#111">2.5</text>
<text transform="translate(384.6 555.58) scale(0.97 1)" text-anchor="middle" font-size="7.2" fill="#111">Model score</text>
<text transform="translate(257.08 472.8) rotate(-90) scale(0.97 1)" text-anchor="middle" font-size="7.2" fill="#111">Density</text>
</svg>
</body></html>
